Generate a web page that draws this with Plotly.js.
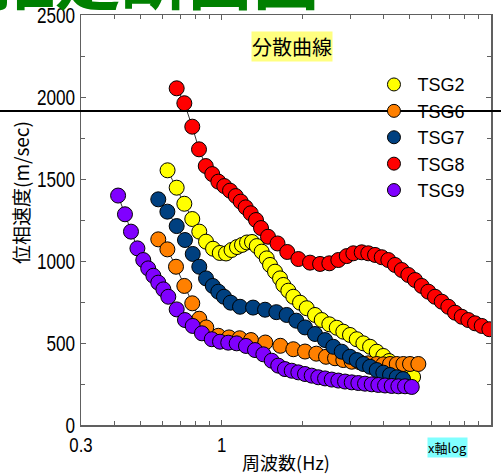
<!DOCTYPE html>
<html>
<head>
<meta charset="utf-8">
<script src="https://cdn.plot.ly/plotly-3.0.1.min.js"></script>
<style>html,body{margin:0;padding:0;background:#fff;}#chart{width:501px;height:475px;}</style>
</head>
<body>
<div id="chart"></div>
<script>
// Series names
const seriesNames = ["TSG2", "TSG6", "TSG7", "TSG8", "TSG9"];
const seriesColors = ["#ffff00", "#ff8000", "#004080", "#ff0000", "#8000ff"];

// TSG2 (yellow)
const freqTSG2 = [0.629,0.680,0.726,0.777,0.825,0.874,0.928,0.983,1.037,1.087,1.139,1.189,1.241,1.295,1.349,1.407,1.469,1.511,1.577,1.646,1.693,1.767,1.844,1.953,2.068,2.220,2.351,2.509,2.673,2.828,2.994,3.172,3.357,3.555,3.763,3.982,4.181,4.401,4.633,4.877,5.135];
const velTSG2  = [1553,1447,1349,1256,1179,1118,1075,1049,1046,1067,1085,1098,1113,1116,1091,1057,1016,976,935,894,854,819,782,746,712,671,640,614,593,569,549,523,498,477,447,421,390,366,341,317,293];

// TSG6 (orange)
const freqTSG6 = [0.581,0.628,0.676,0.726,0.777,0.825,0.876,0.971,1.064,1.165,1.284,1.451,1.650,1.844,2.038,2.245,2.439,2.634,2.828,3.039,3.262,3.501,3.763,3.982,4.217,4.466,4.726,5.003,5.372];
const velTSG6  = [1132,1071,965,848,742,648,595,544,534,529,518,503,483,462,448,435,416,407,396,386,382,376,372,370,372,372,372,372,372];

// TSG7 (dark blue)
const freqTSG7 = [0.581,0.628,0.680,0.730,0.780,0.825,0.874,0.926,0.971,1.019,1.079,1.169,1.307,1.448,1.595,1.742,1.892,2.038,2.220,2.419,2.596,2.790,2.994,3.172,3.357,3.555,3.763,3.982,4.217,4.466,4.712];
const velTSG7  = [1376,1301,1213,1128,1043,965,894,848,813,782,746,721,716,703,688,671,636,595,555,518,477,447,416,396,372,355,335,319,305,291,280];

// TSG8 (red)
const freqTSG8 = [0.680,0.726,0.777,0.823,0.872,0.922,0.971,1.022,1.073,1.127,1.176,1.227,1.281,1.340,1.399,1.485,1.611,1.751,1.925,2.127,2.318,2.509,2.710,2.912,3.081,3.309,3.501,3.710,3.928,4.156,4.401,4.661,4.931,5.222,5.529,5.850,6.195,6.563,6.942,7.353,7.787,8.240,8.724,9.237,9.860];
const velTSG8  = [2053,1962,1819,1681,1579,1530,1484,1457,1429,1396,1362,1327,1291,1250,1201,1148,1107,1055,1012,990,982,986,1006,1030,1047,1053,1047,1037,1023,1006,976,945,915,884,848,813,782,752,721,685,660,640,620,604,584];

// TSG9 (purple)
const freqTSG9 = [0.412,0.437,0.460,0.486,0.511,0.533,0.557,0.581,0.607,0.633,0.680,0.730,0.780,0.844,0.918,0.985,1.057,1.136,1.230,1.329,1.427,1.533,1.621,1.717,1.819,1.925,2.038,2.158,2.283,2.419,2.561,2.710,2.870,3.039,3.216,3.405,3.606,3.816,4.041,4.278,4.528,4.795,5.078];
const velTSG9  = [1399,1285,1179,1077,1006,955,910,868,827,782,705,640,604,559,523,508,502,498,482,457,431,392,362,341,331,321,311,301,291,284,277,271,265,260,256,252,248,244,241,238,236,236,232];

// Axis ticks
const xTickVals = [0.3, 1, 10];
const xTickText = ["0.3", "1", "10"];
const yTickVals = [0, 500, 1000, 1500, 2000, 2500];
const yTickText = ["0", "500", "1000", "1500", "2000", "2500"];

const freqs = [freqTSG2, freqTSG6, freqTSG7, freqTSG8, freqTSG9];
const vels  = [velTSG2, velTSG6, velTSG7, velTSG8, velTSG9];

const traces = [];
for (let i = 0; i < seriesNames.length; i++) {
  traces.push({
    type: "scatter", mode: "lines+markers", name: seriesNames[i],
    x: freqs[i], y: vels[i], showlegend: false,
    line: {color: "#000000", width: 0.8},
    marker: {size: 15, color: seriesColors[i], line: {color: "#000000", width: 1}}
  });
}
// legend entries (markers only)
for (let i = 0; i < seriesNames.length; i++) {
  traces.push({
    type: "scatter", mode: "markers", name: seriesNames[i],
    x: [null], y: [null], showlegend: true,
    marker: {size: 13, color: seriesColors[i], line: {color: "#000000", width: 1}}
  });
}

const tickFamily = "'Liberation Sans', Arial, sans-serif";
const cjk = "'Noto Sans CJK JP', 'Noto Sans', sans-serif";

const layout = {
  width: 501, height: 475,
  margin: {l: 81, r: 10, t: 15, b: 50},
  paper_bgcolor: "#ffffff", plot_bgcolor: "#ffffff",
  showlegend: true,
  legend: {x: 0.706, y: 0.875, xanchor: "left", yanchor: "top", itemwidth: 37,
           bgcolor: "rgba(0,0,0,0)", borderwidth: 0,
           font: {family: "'Liberation Sans', Arial, sans-serif", size: 18, color: "#000"},
           tracegroupgap: 0},
  xaxis: {
    type: "log", range: [Math.log10(0.3), 1],
    tickvals: xTickVals, ticktext: xTickText,
    ticks: "inside", ticklen: 5, tickcolor: "#606060",
    showline: true, linecolor: "#606060", linewidth: 1.5, mirror: "ticks",
    showgrid: false, zeroline: false,
    tickfont: {family: tickFamily, size: 21, color: "#000"},
    minor: {ticks: "inside", ticklen: 4, tickcolor: "#606060", dtick: "D1", showgrid: false},
    title: {text: "周波数(Hz)", font: {family: cjk, size: 18, color: "#000"}, standoff: 12}
  },
  yaxis: {
    range: [0, 2500],
    tickvals: yTickVals, ticktext: yTickText,
    ticks: "inside", ticklen: 5, tickcolor: "#606060",
    showline: true, linecolor: "#606060", linewidth: 1.5, mirror: "ticks",
    showgrid: false, zeroline: false,
    tickfont: {family: tickFamily, size: 22, color: "#000"},
    minor: {ticks: "inside", ticklen: 4, tickcolor: "#606060", dtick: 250, showgrid: false},
    title: {text: ""}
  },
  shapes: [
    {type: "line", xref: "paper", yref: "paper", x0: -0.25, x1: 1.1, y0: 0.766, y1: 0.766,
     line: {color: "#000000", width: 2}, layer: "above"}
  ],
  annotations: [
    {text: "位相速度(m/sec)", xref: "paper", yref: "paper", x: -0.149, y: 0.568,
     xanchor: "center", yanchor: "middle", textangle: -90, showarrow: false,
     font: {family: cjk, size: 19, color: "#000"}},
    {text: "分散曲線", xref: "paper", yref: "paper", x: 0.5146, y: 0.924,
     xanchor: "center", yanchor: "middle", showarrow: false, bgcolor: "#ffff80", borderpad: 0,
     font: {family: cjk, size: 20, color: "#000"}},
    {text: "x軸log", xref: "paper", yref: "paper", x: 0.895, y: -0.054,
     xanchor: "center", yanchor: "middle", showarrow: false, bgcolor: "#80ffff", borderpad: 0,
     font: {family: cjk, size: 13, color: "#000"}},
    {text: "<b>推定断面図</b>", xref: "paper", yref: "paper", x: -0.23, y: 0.9756,
     xanchor: "left", yanchor: "bottom", showarrow: false,
     font: {family: cjk, size: 66, color: "#008000"}}
  ]
};

Plotly.newPlot("chart", traces, layout, {displayModeBar: false, staticPlot: true}).then(function (gd) {
  // condense tick label glyphs horizontally (the reference uses a narrow face)
  function condense(sel, k) {
    gd.querySelectorAll(sel).forEach(function (t) {
      const x = parseFloat(t.getAttribute("x")) || 0;
      const tr = t.getAttribute("transform") || "";
      t.setAttribute("transform", tr + " translate(" + x + ",0) scale(" + k + ",1) translate(" + (-x) + ",0)");
    });
  }
  condense(".ytick text", 0.78);
  condense(".xtick text", 0.8);
});
</script>
</body>
</html>
